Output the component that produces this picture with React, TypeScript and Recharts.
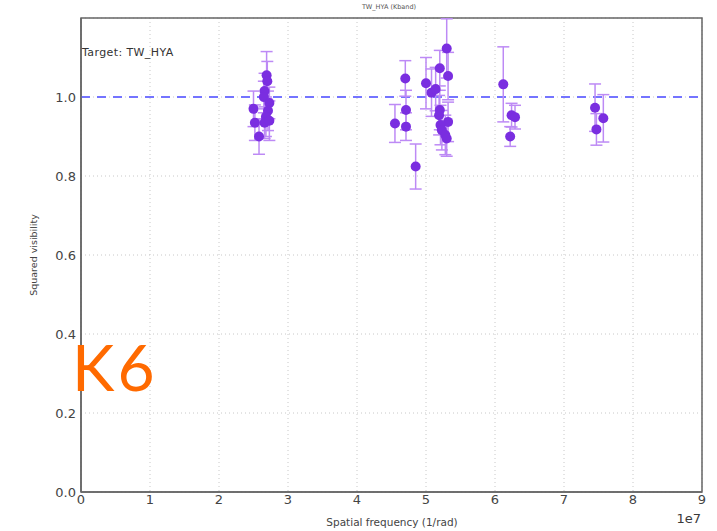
import React from "react";
import {
  ScatterChart,
  Scatter,
  XAxis,
  YAxis,
  CartesianGrid,
  ReferenceLine,
  ReferenceArea,
  ErrorBar,
} from "recharts";

// Spatial frequency in units of 1e7 rad^-1
const spatialFreq = [
  2.5, 2.52, 2.58, 2.69, 2.7, 2.66, 2.65, 2.73, 2.71, 2.68, 2.66, 2.73,
  4.55, 4.7, 4.71, 4.71, 4.85, 5.0, 5.08, 5.14, 5.2, 5.3, 5.32, 5.2, 5.19,
  5.32, 5.21, 5.23, 5.28, 5.3,
  6.12, 6.24, 6.29, 6.22,
  7.45, 7.47, 7.57,
];

const squaredVis = [
  0.97, 0.935, 0.9, 1.055, 1.04, 1.015, 1.0, 0.985, 0.965, 0.95, 0.935, 0.94,
  0.933, 1.047, 0.967, 0.925, 0.824, 1.035, 1.011, 1.02, 1.073, 1.123, 1.053,
  0.967, 0.954, 0.937, 0.929, 0.916, 0.904, 0.895,
  1.032, 0.954, 0.949, 0.9,
  0.973, 0.918, 0.946,
];

const visError = [
  0.045, 0.045, 0.045, 0.06, 0.05, 0.045, 0.04, 0.04, 0.05, 0.05, 0.04, 0.05,
  0.048, 0.045, 0.05, 0.035, 0.057, 0.065, 0.06, 0.055, 0.045, 0.075, 0.06,
  0.05, 0.05, 0.05, 0.05, 0.05, 0.05, 0.045,
  0.095, 0.03, 0.03, 0.025,
  0.06, 0.04, 0.06,
];

const xTicks = [0, 1, 2, 3, 4, 5, 6, 7, 8, 9];
const yTicks = [0, 0.2, 0.4, 0.6, 0.8, 1.0];

const points = spatialFreq.map((x, i) => ({
  x,
  y: squaredVis[i],
  err: visError[i],
}));

const W = 717;
const H = 531;

const tickStyle = { fontFamily: "DejaVu Sans", fontSize: 13, fill: "#444" };

const Dot = (props: any) => {
  const { cx, cy } = props;
  if (cx == null || cy == null) return null;
  return <circle cx={cx} cy={cy} r={5} fill="#7a2ee0" />;
};

export default function App() {
  return (
    <div
      style={{
        position: "absolute",
        left: 0,
        top: 0,
        width: W,
        height: H,
        background: "#fff",
      }}
    >
      <ScatterChart
        width={W}
        height={H}
        margin={{ top: 18, right: 15, left: 0, bottom: 0 }}
      >
        <CartesianGrid stroke="#c8c8c8" strokeDasharray="1 3" />
        <XAxis
          type="number"
          dataKey="x"
          domain={[0, 9]}
          ticks={xTicks}
          interval={0}
          height={39}
          tickSize={0}
          tickMargin={3}
          tick={tickStyle}
          axisLine={{ stroke: "#666", strokeWidth: 1.5 }}
          tickFormatter={(v: number) => String(v)}
        />
        <YAxis
          type="number"
          dataKey="y"
          domain={[0, 1.2]}
          ticks={yTicks}
          interval={0}
          width={81}
          tickSize={0}
          tickMargin={5}
          tick={tickStyle}
          allowDataOverflow
          axisLine={{ stroke: "#666", strokeWidth: 1.5 }}
          tickFormatter={(v: number) => v.toFixed(1)}
        />
        <ReferenceArea
          x1={0}
          x2={9}
          y1={0}
          y2={1.2}
          fill="none"
          stroke="#666"
          strokeWidth={1.5}
        />
        <ReferenceLine
          y={1.0}
          stroke="#7474ff"
          strokeWidth={2}
          strokeDasharray="9 7"
        />
        <Scatter data={points} shape={<Dot />} isAnimationActive={false}>
          <ErrorBar
            dataKey="err"
            direction="y"
            stroke="#bd8af5"
            strokeWidth={1.5}
            width={6}
          />
        </Scatter>
      </ScatterChart>
      <svg
        width={W}
        height={H}
        style={{ position: "absolute", left: 0, top: 0, pointerEvents: "none" }}
      >
        <text
          x={389}
          y={9}
          textAnchor="middle"
          fontFamily="DejaVu Sans"
          fontSize={6.5}
          fill="#555"
        >
          TW_HYA (Kband)
        </text>
        <text
          x={82}
          y={56}
          fontFamily="DejaVu Sans"
          fontSize={11}
          letterSpacing={0.4}
          fill="#333"
        >
          Target: TW_HYA
        </text>
        <text
          transform="translate(37,255) rotate(-90)"
          textAnchor="middle"
          fontFamily="DejaVu Sans"
          fontSize={9.5}
          fill="#444"
        >
          Squared visibility
        </text>
        <text
          x={392}
          y={526}
          textAnchor="middle"
          fontFamily="DejaVu Sans"
          fontSize={10.5}
          fill="#444"
        >
          Spatial frequency (1/rad)
        </text>
        <text
          x={701}
          y={523}
          textAnchor="end"
          fontFamily="DejaVu Sans"
          fontSize={13}
          fill="#3a3a3a"
        >
          1e7
        </text>
        <text
          x={72}
          y={391}
          fontFamily="Lato"
          fontSize={64}
          letterSpacing={3}
          fill="#ff6a00"
        >
          K6
        </text>
      </svg>
    </div>
  );
}
